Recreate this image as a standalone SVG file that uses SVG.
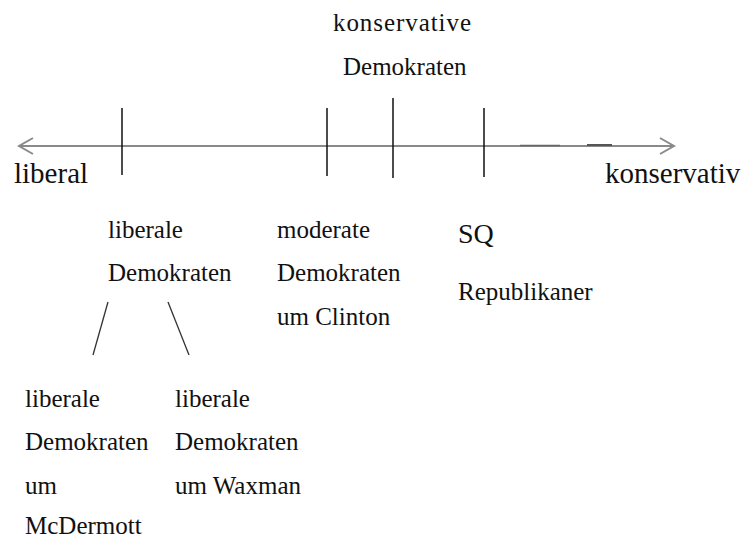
<svg xmlns="http://www.w3.org/2000/svg" width="743" height="540" viewBox="0 0 743 540">
<style>
.t{font-family:"Liberation Serif","Times New Roman",serif;font-size:25px;fill:#111;}
.big{font-size:29px;}
.sq{font-size:28px;}
.tick{stroke:#111;stroke-width:1.5;}
.ax{stroke:#8a8a8a;stroke-width:2;fill:none;}
.br{stroke:#333;stroke-width:1.3;}
</style>
<rect width="743" height="540" fill="#fff"/>
<g id="connectors">
<line class="ax" x1="19" y1="146" x2="674" y2="146"/>
<polyline class="ax" points="33,138 19,146 33,154"/>
<polyline class="ax" points="660,138 674,146 660,154"/>
<line x1="520" y1="145.5" x2="560" y2="145.5" stroke="#666" stroke-width="1.5"/>
<line x1="587" y1="145" x2="612" y2="145" stroke="#555" stroke-width="2"/>
<line class="tick" x1="122" y1="108" x2="122" y2="175"/>
<line class="tick" x1="327" y1="108" x2="327" y2="176"/>
<line class="tick" x1="393" y1="98" x2="393" y2="178"/>
<line class="tick" x1="484" y1="108" x2="484" y2="177"/>
<line class="br" x1="108" y1="302" x2="93" y2="355"/>
<line class="br" x1="168" y1="302" x2="189" y2="355"/>
</g>
<g id="konservative-demokraten"><text class="t" x="333" y="31" textLength="138">konservative</text><text class="t" x="343" y="75">Demokraten</text></g>
<g id="liberal"><text class="t big" x="14" y="183">liberal</text></g>
<g id="konservativ"><text class="t big" x="605" y="183">konservativ</text></g>
<g id="liberale-demokraten"><text class="t" x="108" y="238">liberale</text><text class="t" x="108" y="281">Demokraten</text></g>
<g id="moderate-demokraten"><text class="t" x="277" y="238">moderate</text><text class="t" x="277" y="281">Demokraten</text><text class="t" x="277" y="325">um Clinton</text></g>
<g id="sq"><text class="t sq" x="458" y="243">SQ</text></g>
<g id="republikaner"><text class="t" x="458" y="300">Republikaner</text></g>
<g id="mcdermott"><text class="t" x="25" y="407">liberale</text><text class="t" x="25" y="450">Demokraten</text><text class="t" x="25" y="494">um</text><text class="t" x="25" y="534">McDermott</text></g>
<g id="waxman"><text class="t" x="175" y="407">liberale</text><text class="t" x="175" y="450">Demokraten</text><text class="t" x="175" y="494">um Waxman</text></g>
</svg>
